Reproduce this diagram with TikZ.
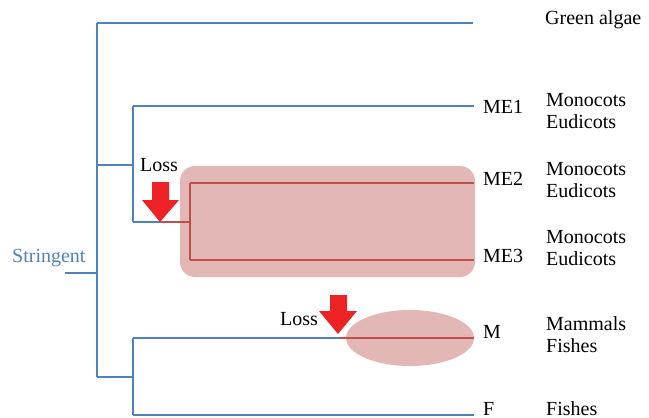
\documentclass[tikz,border=0pt]{standalone}
\usepackage{fontspec}
\setmainfont{Liberation Serif}
\newfontfamily\treefont{Liberation Serif}
\definecolor{treeblue}{HTML}{4F81BD}
\definecolor{treered}{HTML}{C0504D}
\definecolor{boxfill}{HTML}{E4B7B7}
\definecolor{lossred}{HTML}{ED2224}
\begin{document}
\begin{tikzpicture}[x=1pt,y=-1pt,
  blueline/.style={draw=treeblue,line width=1.6pt},
  redline/.style={draw=treered,line width=1.6pt},
  lbl/.style={font=\treefont\fontsize{20}{22}\selectfont,inner sep=0pt,anchor=base west},
  lossarrow/.style={fill=lossred,draw=none}]
\useasboundingbox (0,0) rectangle (649,418);
% highlight shapes
\fill[boxfill, rounded corners=15pt] (180,166) rectangle (475,277);
\fill[boxfill] (410,338) ellipse [x radius=64pt, y radius=28pt];
% tree coordinates
\coordinate (root) at (65,273);
\coordinate (n0) at (97,273);
\coordinate (n0top) at (97,23);
\coordinate (n0bot) at (97,377);
\coordinate (gaend) at (473,23);
\coordinate (n1) at (97,165);
\coordinate (n1r) at (133,165);
\coordinate (n1top) at (133,106);
\coordinate (n1bot) at (133,222);
\coordinate (me1end) at (474,106);
\coordinate (loss1pt) at (160,222);
\coordinate (n2) at (190,222);
\coordinate (n2top) at (190,183);
\coordinate (n2bot) at (190,260);
\coordinate (me2end) at (474,183);
\coordinate (me3end) at (474,260);
\coordinate (n3r) at (133,377);
\coordinate (n3top) at (133,338);
\coordinate (n3bot) at (133,415);
\coordinate (loss2pt) at (339,338);
\coordinate (mend) at (474,338);
\coordinate (fend) at (474,415);
% blue tree
\draw[blueline] (root) -- (n0);
\draw[blueline] (n0top) -- (n0bot);
\draw[blueline] (n0top) -- (gaend);
\draw[blueline] (n1) -- (n1r);
\draw[blueline] (n1top) -- (n1bot);
\draw[blueline] (n1top) -- (me1end);
\draw[blueline] (n1bot) -- (loss1pt);
\draw[blueline] (n0bot) -- (n3r);
\draw[blueline] (n3top) -- (n3bot);
\draw[blueline] (n3top) -- (loss2pt);
\draw[blueline] (n3bot) -- (fend);
% red tree
\draw[redline] (loss1pt) -- (n2);
\draw[redline] (n2top) -- (n2bot);
\draw[redline] (n2top) -- (me2end);
\draw[redline] (n2bot) -- (me3end);
\draw[redline] (loss2pt) -- (mend);
% loss arrows
\fill[lossarrow] (152,182) -- (169,182) -- (169,200) -- (179,200) -- (loss1pt) -- (142,200) -- (152,200) -- cycle;
\fill[lossarrow] (330,295) -- (347,295) -- (347,311) -- (357,311) -- (338,334) -- (319,311) -- (330,311) -- cycle;
% labels
\node[lbl] (loss1) at (140,171) {Loss};
\node[lbl] (loss2) at (280,325) {Loss};
\node[lbl,text=treeblue] (stringent) at (12,262) {Stringent};
\node[lbl] (ga) at (545,24) {Green algae};
\node[lbl] (me1) at (483,113) {ME1};
\node[lbl] (me1a) at (546,106) {Monocots};
\node[lbl] (me1b) at (546,128) {Eudicots};
\node[lbl] (me2) at (483,185) {ME2};
\node[lbl] (me2a) at (546,175) {Monocots};
\node[lbl] (me2b) at (546,197) {Eudicots};
\node[lbl] (me3) at (483,262) {ME3};
\node[lbl] (me3a) at (546,243) {Monocots};
\node[lbl] (me3b) at (546,265) {Eudicots};
\node[lbl] (m) at (483,338) {M};
\node[lbl] (ma) at (546,330) {Mammals};
\node[lbl] (mb) at (546,352) {Fishes};
\node[lbl] (f) at (483,415) {F};
\node[lbl] (fa) at (546,415) {Fishes};
\end{tikzpicture}
\end{document}
